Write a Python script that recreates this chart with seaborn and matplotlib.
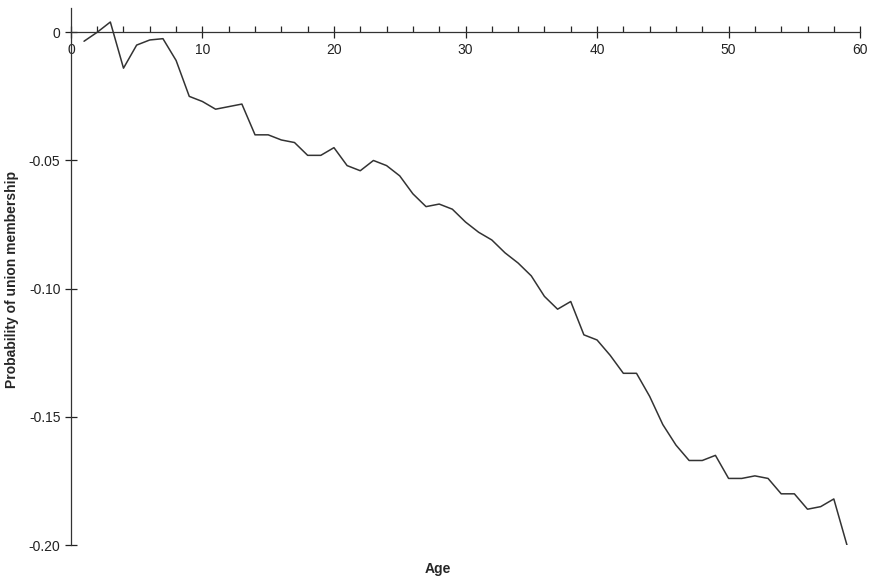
import matplotlib
matplotlib.use("Agg")
import matplotlib.pyplot as plt
import numpy as np
import seaborn as sns
from matplotlib.ticker import MultipleLocator

age = list(range(1, 60))
prob = [-0.0035, 0.0, 0.004, -0.014, -0.005, -0.003, -0.0025, -0.011, -0.025, -0.027,
        -0.030, -0.029, -0.028, -0.040, -0.040, -0.042, -0.043, -0.048, -0.048, -0.045,
        -0.052, -0.054, -0.050, -0.052, -0.056, -0.063, -0.068, -0.067, -0.069, -0.074,
        -0.078, -0.081, -0.086, -0.090, -0.095, -0.103, -0.108, -0.105, -0.118, -0.120,
        -0.126, -0.133, -0.133, -0.142, -0.153, -0.161, -0.167, -0.167, -0.165, -0.174,
        -0.174, -0.173, -0.174, -0.180, -0.180, -0.186, -0.185, -0.182, -0.200]

sns.set_theme(style="white")
plt.rcParams['font.family'] = ['Liberation Sans', 'DejaVu Sans']
fig = plt.figure(figsize=(8.75, 5.83), dpi=100)
ax = fig.add_axes([0.081, 0.065, 0.902, 0.921])
sns.lineplot(x=age, y=prob, ax=ax, color="#333333", linewidth=1.1)

ax.set_xlim(0, 60)
ax.set_ylim(-0.20, 0.0094)
ax.spines['bottom'].set_position(('data', 0))
ax.spines['top'].set_visible(False)
ax.spines['right'].set_visible(False)
for s in ('left', 'bottom'):
    ax.spines[s].set_color('#333333')
    ax.spines[s].set_linewidth(0.9)
ax.set_xticks(range(0, 61, 10))
ax.xaxis.set_minor_locator(MultipleLocator(2))
ax.set_yticks([0, -0.05, -0.10, -0.15, -0.20])
ax.set_yticklabels(['0', '-0.05', '-0.10', '-0.15', '-0.20'])
ax.tick_params(axis='x', which='major', direction='inout', length=8, width=0.9, pad=4, labelsize=10, colors='#222222')
ax.tick_params(axis='x', which='minor', direction='in', length=4, width=0.9, bottom=True)
ax.tick_params(axis='y', which='major', direction='inout', length=8, width=0.9, left=True, labelsize=10, colors='#222222')
ax.tick_params(axis='x', which='both', bottom=True)
fig.text(0.5, 0.018, 'Age', ha='center', fontweight='bold', fontsize=10)
fig.text(0.014, 0.52, 'Probability of union membership', rotation=90, va='center', ha='center',
         fontweight='bold', fontsize=10)
fig.savefig("out.png", dpi=100)
